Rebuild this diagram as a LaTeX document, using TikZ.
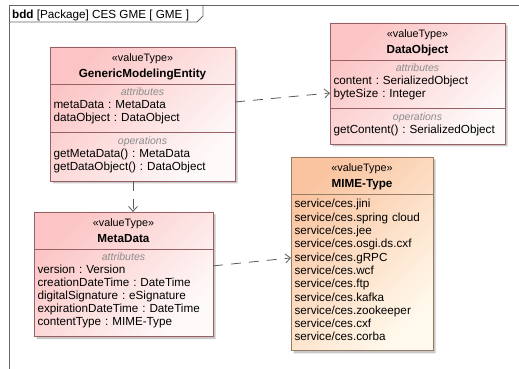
\documentclass[tikz,border=0pt]{standalone}
\usepackage{fontspec}
\setmainfont{Liberation Sans}
\usetikzlibrary{shapes.multipart, arrows.meta, positioning, shadows}

\definecolor{pinktop}{RGB}{252,196,196}
\definecolor{pinkbottom}{RGB}{254,250,250}
\definecolor{peachtop}{RGB}{250,196,160}
\definecolor{peachbottom}{RGB}{255,249,236}
\definecolor{classborder}{RGB}{150,96,100}
\definecolor{enumborder}{RGB}{150,124,100}
\definecolor{labelgray}{RGB}{140,140,140}
\definecolor{linkgray}{RGB}{90,90,90}
\definecolor{framegray}{RGB}{100,100,100}

\setlength{\parindent}{0pt}
\frenchspacing
\newcommand{\umlhead}[1]{\centering\rule{0pt}{14pt}{\fontsize{10.8}{12}\selectfont «valueType»}\\[3pt]\textbf{#1}\rule[-6.5pt]{0pt}{6.5pt}\par}
\newcommand{\umlsec}[1]{{\centering\color{labelgray}\fontsize{10.5}{13}\selectfont\itshape\rule{0pt}{11pt}#1\par}\raggedright}
\newcommand{\umlend}{\rule[-10.5pt]{0pt}{10.5pt}}

\begin{document}
\begin{tikzpicture}
    \tikzstyle{valuetype} = [rectangle split, rectangle split parts=3, draw=classborder, line width=0.8pt, outer sep=0pt, inner xsep=3.5pt, inner ysep=0pt, top color=pinktop, bottom color=pinkbottom, shading angle=45, drop shadow={shadow xshift=2.5pt, shadow yshift=-2.5pt, fill=gray!70, opacity=0.6}, align=left, font=\fontsize{11.7}{13}\selectfont]
    \tikzstyle{enumtype} = [valuetype, rectangle split parts=2, draw=enumborder, top color=peachtop, bottom color=peachbottom, shading angle=45, font=\fontsize{11.7}{13.3}\selectfont]
    \tikzstyle{arrow} = [draw=linkgray, line width=0.8pt, dash pattern=on 10pt off 8pt, -{Straight Barb[length=5pt,width=9pt]}]

    \useasboundingbox [fill=white] (0,0) rectangle (519pt,-369pt);

    % frame
    \draw [framegray, line width=0.8pt] (9pt,-369pt) -- (9pt,-5pt) -- (519pt,-5pt);
    \draw [framegray, line width=0.8pt] (9pt,-22pt) -- (197pt,-22pt) -- (203pt,-16pt) -- (203pt,-5pt);
    \node (frametitle) [anchor=west, inner sep=0pt, font=\fontsize{11.7}{13}\selectfont] at (12pt,-15.5pt) {\textbf{bdd} [Package] CES GME [ GME ]};

    \node (gme) [valuetype, text width=178pt, anchor=north west] at (50pt,-47pt)
        {\umlhead{GenericModelingEntity}
         \nodepart{two}\umlsec{attributes}metaData : MetaData\\dataObject : DataObject\umlend
         \nodepart{three}\umlsec{operations}getMetaData() : MetaData\\getDataObject() : DataObject\umlend};
    \node (data) [valuetype, text width=168pt, above right=24pt and 95pt of gme.north east, anchor=north west]
        {\umlhead{DataObject}
         \nodepart{two}\umlsec{attributes}content : SerializedObject\\byteSize : Integer\umlend
         \nodepart{three}\umlsec{operations}getContent() : SerializedObject\umlend};
    \node (meta) [valuetype, rectangle split parts=2, text width=172pt, below left=31pt and 16pt of gme.south west, anchor=north west]
        {\umlhead{MetaData}
         \nodepart{two}\umlsec{attributes}version : Version\\creationDateTime : DateTime\\digitalSignature : eSignature\\expirationDateTime : DateTime\\contentType : MIME-Type\umlend};
    \node (mime) [enumtype, text width=135pt, below left=13pt and 39pt of data.south west, anchor=north west]
        {\umlhead{MIME-Type}
         \nodepart{two}\raggedright\rule{0pt}{13pt}service/ces.jini\\service/ces.spring cloud\\service/ces.jee\\service/ces.osgi.ds.cxf\\service/ces.gRPC\\service/ces.wcf\\service/ces.ftp\\service/ces.kafka\\service/ces.zookeeper\\service/ces.cxf\\service/ces.corba\rule[-9.5pt]{0pt}{9.5pt}};

    \draw [arrow] ([yshift=-55pt]gme.north east) -- ([yshift=-70pt]data.north west);
    \draw [arrow] ([xshift=83pt]gme.south west) -- ([xshift=99pt]meta.north west);
    \draw [arrow] ([yshift=-54pt]meta.north east) -- ([yshift=-101pt]mime.north west);
\end{tikzpicture}
\end{document}
